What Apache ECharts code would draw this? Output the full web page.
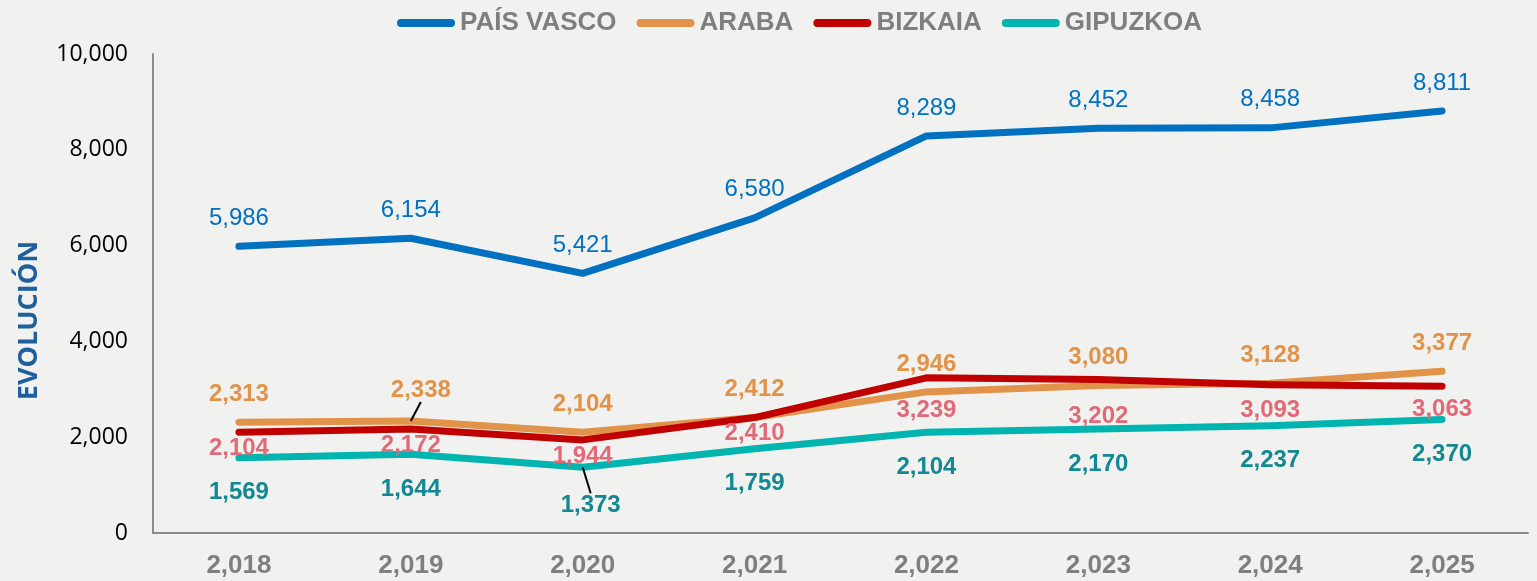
<!DOCTYPE html>
<html>
<head>
<meta charset="utf-8">
<script src="https://cdn.jsdelivr.net/npm/echarts@6/dist/echarts.min.js"></script>
<style>
html,body{margin:0;padding:0;background:#f1f1ef;}
#chart{width:1537px;height:581px;}
</style>
</head>
<body>
<div id="chart"></div>
<script>
const years = ['2,018','2,019','2,020','2,021','2,022','2,023','2,024','2,025'];
const seriesNames = ['PAÍS VASCO','ARABA','BIZKAIA','GIPUZKOA'];
const paisVasco = [5986, 6154, 5421, 6580, 8289, 8452, 8458, 8811];
const araba     = [2313, 2338, 2104, 2412, 2946, 3080, 3128, 3377];
const bizkaia   = [2104, 2172, 1944, 2410, 3239, 3202, 3093, 3063];
const gipuzkoa  = [1569, 1644, 1373, 1759, 2104, 2170, 2237, 2370];
const yTicks = [0, 2000, 4000, 6000, 8000, 10000];

const lineColors  = ['#0070C0', '#E2934A', '#C00000', '#00B5B0'];
const labelColors = ['#0070C0', '#E2934A', '#E06A78', '#148892'];
const labelWeight = ['normal', 'bold', 'bold', 'bold'];
const labelPos    = ['top', 'top', 'bottom', 'bottom'];
const labelDist   = [16, 16, 4, 23];
// per-label nudges [seriesIndex, dataIndex, dx, dy, leader]
const nudges = [
  [1, 1, 10, -3, true],
  [3, 2, 8, 3, true],
  [2, 4, 0, 17, false],
  [2, 5, 0, 21, false],
  [2, 6, 0, 10, false],
  [2, 7, 0, 7, false]
];

const fmt = v => v.toLocaleString('en-US');
const allData = [paisVasco, araba, bizkaia, gipuzkoa];

const series = allData.map((arr, si) => ({
  name: seriesNames[si],
  type: 'line',
  data: arr.map((v, di) => {
    const n = nudges.find(x => x[0] === si && x[1] === di);
    const item = { value: v };
    if (n && n[4]) item.labelLine = { show: true, lineStyle: { color: '#000', width: 2 } };
    return item;
  }),
  symbol: 'circle',
  symbolSize: 0.01,
  showSymbol: true,
  smooth: false,
  lineStyle: { color: lineColors[si], width: 7, cap: 'round', join: 'round' },
  itemStyle: { color: lineColors[si] },
  label: {
    show: true,
    position: labelPos[si],
    distance: labelDist[si],
    formatter: p => fmt(p.value),
    color: labelColors[si],
    fontFamily: 'Liberation Sans, Arial, sans-serif',
    fontSize: 24,
    fontWeight: labelWeight[si]
  },
  labelLine: { show: false, lineStyle: { color: '#000', width: 2 }, smooth: false },
  labelLayout: function (params) {
    const n = nudges.find(x => x[0] === params.seriesIndex && x[1] === params.dataIndex);
    if (n) return { dx: n[2], dy: n[3] };
    return {};
  },
  z: si === 2 ? 3 : 2
}));

const chart = echarts.init(document.getElementById('chart'), null, { renderer: 'canvas' });
chart.setOption({
  backgroundColor: '#f1f1ef',
  animation: false,
  legend: {
    data: seriesNames,
    left: 392,
    top: 5,
    itemWidth: 58,
    itemHeight: 8,
    itemGap: 20,
    icon: 'path://M4,0 L54,0 A4,4 0 0 1 54,8 L4,8 A4,4 0 0 1 4,0 Z',
    textStyle: {
      color: '#7f7f7f',
      fontFamily: 'Liberation Sans, Arial, sans-serif',
      fontSize: 26,
      fontWeight: 'bold'
    }
  },
  grid: { left: 153, right: 9, top: 54, bottom: 48, containLabel: false },
  xAxis: {
    type: 'category',
    data: years,
    boundaryGap: true,
    axisLine: { show: true, lineStyle: { color: '#8c8c8c', width: 2 } },
    axisTick: { show: false },
    axisLabel: {
      color: '#7f7f7f',
      fontFamily: 'Liberation Sans, Arial, sans-serif',
      fontSize: 26,
      fontWeight: 'bold',
      margin: 20
    },
    splitLine: { show: false }
  },
  yAxis: {
    type: 'value',
    min: yTicks[0],
    max: yTicks[yTicks.length - 1],
    interval: 2000,
    name: 'EVOLUCIÓN',
    nameLocation: 'middle',
    nameGap: 110,
    nameRotate: 90,
    nameTextStyle: {
      color: '#1F5F9E',
      fontFamily: 'Open Sans, sans-serif',
      fontSize: 27,
      fontWeight: 'bold',
      padding: [0, 54, 0, 0]
    },
    axisLine: { show: true, lineStyle: { color: '#8c8c8c', width: 2 } },
    axisTick: { show: false },
    splitLine: { show: false },
    axisLabel: {
      color: '#000',
      fontFamily: 'Open Sans, sans-serif',
      fontSize: 23,
      margin: 25,
      formatter: v => fmt(v)
    }
  },
  series: series
});
</script>
</body>
</html>
